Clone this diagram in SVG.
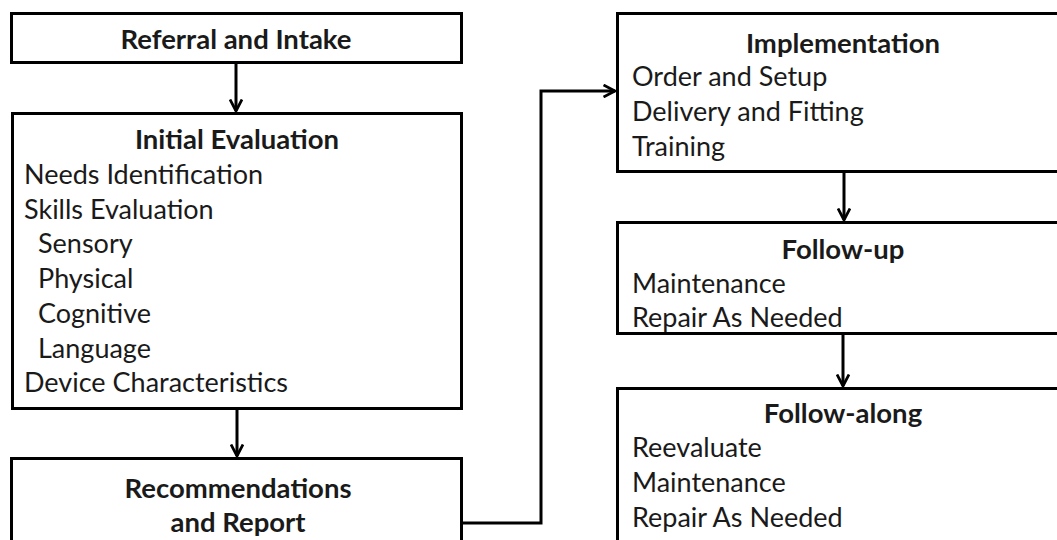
<svg xmlns="http://www.w3.org/2000/svg" width="1057" height="540" viewBox="0 0 1057 540">
<style>
.box{fill:#fff;stroke:#000;stroke-width:3}
.t{font-family:Lato,"Liberation Sans",sans-serif;font-size:27px;fill:#1a1a1a}
.b{font-weight:bold;text-anchor:middle;font-size:27.5px}
.c{fill:none;stroke:#000;stroke-width:3}
</style>
<defs>
<marker id="ah" viewBox="0 0 14 14" refX="12.5" refY="7" markerWidth="14" markerHeight="14" markerUnits="userSpaceOnUse" orient="auto">
<path d="M1,1 L12.5,7 L1,13" fill="none" stroke="#000" stroke-width="2.8"/>
</marker>
</defs>
<rect width="1057" height="540" fill="#fff"/>
<g id="referral">
<rect class="box" x="11.5" y="13.5" width="450" height="49"/>
<text class="t b" x="236" y="49">Referral and Intake</text>
</g>
<g id="initial-evaluation">
<rect class="box" x="12.5" y="113.5" width="449" height="295"/>
<text class="t b" x="237" y="149">Initial Evaluation</text>
<text class="t" x="24" y="184">Needs Identification</text>
<text class="t" x="24" y="219">Skills Evaluation</text>
<text class="t" x="38" y="253">Sensory</text>
<text class="t" x="38" y="288">Physical</text>
<text class="t" x="38" y="323">Cognitive</text>
<text class="t" x="38" y="358">Language</text>
<text class="t" x="24" y="392">Device Characteristics</text>
</g>
<g id="recommendations">
<rect class="box" x="11.5" y="458.5" width="450" height="90"/>
<text class="t b" x="238" y="498">Recommendations</text>
<text class="t b" x="238" y="532">and Report</text>
</g>
<g id="implementation">
<rect class="box" x="617.5" y="13.5" width="450" height="158"/>
<text class="t b" x="843" y="53">Implementation</text>
<text class="t" x="632" y="86">Order and Setup</text>
<text class="t" x="632" y="121">Delivery and Fitting</text>
<text class="t" x="632" y="156">Training</text>
</g>
<g id="follow-up">
<rect class="box" x="617.5" y="222.5" width="450" height="111"/>
<text class="t b" x="843" y="259">Follow-up</text>
<text class="t" x="632" y="293">Maintenance</text>
<text class="t" x="632" y="327">Repair As Needed</text>
</g>
<g id="follow-along">
<rect class="box" x="617.5" y="388.5" width="450" height="160"/>
<text class="t b" x="843" y="423">Follow-along</text>
<text class="t" x="632" y="457">Reevaluate</text>
<text class="t" x="632" y="492">Maintenance</text>
<text class="t" x="632" y="527">Repair As Needed</text>
</g>
<g id="connectors">
<line class="c" x1="236" y1="63" x2="236" y2="111" marker-end="url(#ah)"/>
<line class="c" x1="237" y1="409" x2="237" y2="456" marker-end="url(#ah)"/>
<polyline class="c" points="462,523 541,523 541,91 615,91" marker-end="url(#ah)"/>
<line class="c" x1="844" y1="172" x2="844" y2="220" marker-end="url(#ah)"/>
<line class="c" x1="843" y1="334" x2="843" y2="386" marker-end="url(#ah)"/>
</g>
</svg>
